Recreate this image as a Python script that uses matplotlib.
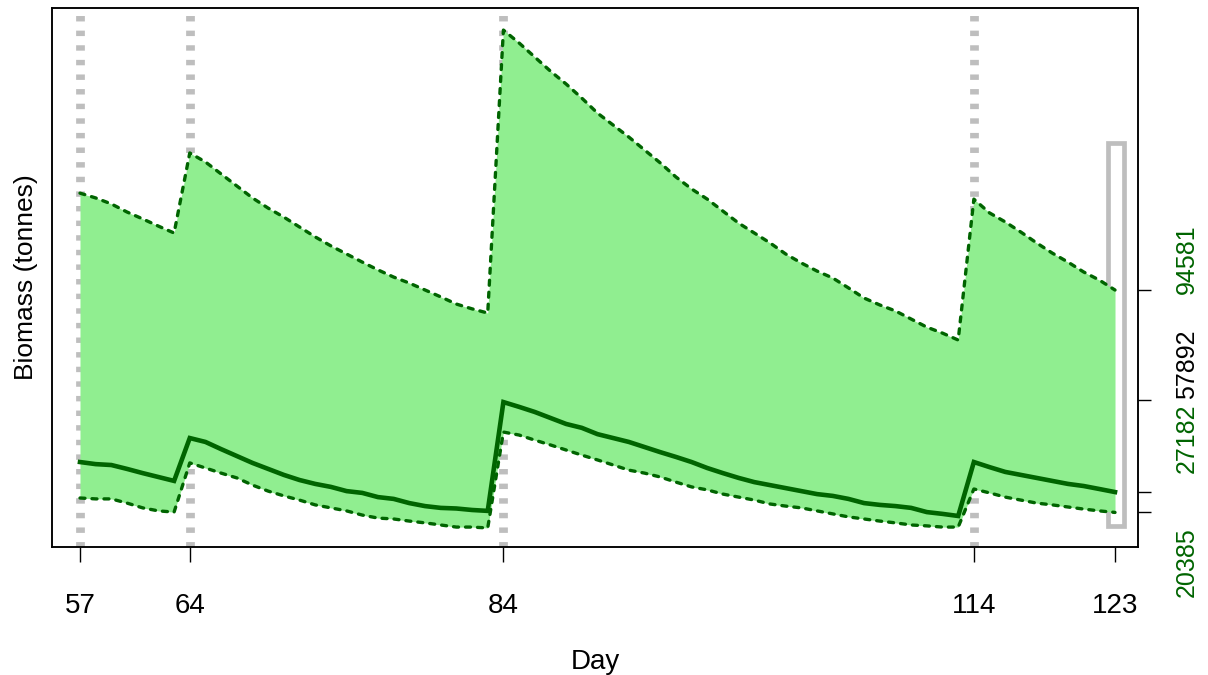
import numpy as np
import matplotlib
matplotlib.use("Agg")
import matplotlib.pyplot as plt
from matplotlib.patches import Rectangle

plt.rcParams["font.family"] = ["Liberation Sans", "DejaVu Sans"]

# ------------------------------------------------------------
# Data
# ------------------------------------------------------------
days = np.arange(57, 124)

upper = [
    126900, 125300, 123300, 120600, 118300, 115900, 113600,            # 57-63
    140300, 137300, 133300, 129300, 125300, 121900, 118900, 115600,    # 64-71
    112300, 109300, 106600, 103900, 101300, 98900, 96900, 94600,       # 72-79
    92300, 89900, 88300, 86900,                                        # 80-83
    181300, 177000, 172300, 167600, 163300, 158600, 153600, 149600,    # 84-91
    145600, 141300, 137000, 132300, 128300, 124900, 120900, 116900,    # 92-99
    113600, 110300, 106600, 103600, 100900, 98600, 95300, 91900,       # 100-107
    89600, 87600, 84900, 82200, 80200, 77900,                          # 108-113
    124900, 120300, 117300, 113900, 110300, 106900, 103900, 100600,    # 114-121
    97900, 94581,                                                      # 122-123
]

central = [
    37200, 36500, 36200, 34900, 33500, 32200, 30900,                   # 57-63
    45200, 43900, 41500, 39200, 36900, 34900, 32900, 31200,            # 64-71
    29900, 28900, 27500, 26900, 25500, 24900, 23500, 22500,            # 72-79
    21900, 21700, 21200, 20900,                                        # 80-83
    57200, 55600, 53900, 51900, 49900, 48600, 46500, 45200,            # 84-91
    43900, 42200, 40500, 38900, 37200, 35200, 33500, 31900,            # 92-99
    30500, 29500, 28500, 27500, 26500, 25900, 24900, 23500,            # 100-107
    22900, 22500, 21900, 20500, 19900, 19200,                          # 108-113
    37200, 35500, 33900, 32900, 31900, 30900, 29900, 29200,            # 114-121
    28200, 27182,                                                      # 122-123
]

lower = [
    25200, 24900, 24900, 23500, 21900, 20900, 20500,                   # 57-63
    36900, 35200, 33500, 31900, 29500, 27500, 25900, 24500,            # 64-71
    22900, 21900, 20900, 19500, 18500, 18200, 17500, 16900,            # 72-79
    16200, 15500, 15500, 15200,                                        # 80-83
    47200, 46200, 44500, 42900, 41200, 39500, 37900, 36200,            # 84-91
    34500, 33500, 32200, 30500, 28900, 27900, 26500, 25500,            # 92-99
    24500, 23200, 22500, 21900, 20900, 19900, 18900, 18200,            # 100-107
    17500, 16900, 16200, 15900, 15500, 15500,                          # 108-113
    28200, 26900, 25500, 24500, 23500, 22900, 22200, 21500,            # 114-121
    20900, 20385,                                                      # 122-123
]

event_days = [57, 64, 84, 114]
x_ticks = [57, 64, 84, 114, 123]

right_ticks = [20385, 27182, 57892, 94581]
right_labels = ["20385", "27182", "57892", "94581"]
right_colors = ["darkgreen", "darkgreen", "black", "darkgreen"]

# grey range box at the right (day span, biomass span)
box_days = (122.58, 123.6)
box_biomass = (15858, 143627)

# ------------------------------------------------------------
# Plot
# ------------------------------------------------------------
fig = plt.figure(figsize=(12.08, 6.75), dpi=100)
ax = fig.add_axes([52 / 1208, 1 - 547 / 675, 1086 / 1208, 539 / 675])

ax.set_xlim(55.215, 124.466)
ax.set_ylim(8853, 188663)

for d in event_days:
    ax.axvline(d, color="#BEBEBE", lw=6.3, dashes=(0.62, 1.05),
               solid_capstyle="butt", dash_capstyle="butt", zorder=1)

ax.add_patch(Rectangle((box_days[0], box_biomass[0]),
                       box_days[1] - box_days[0],
                       box_biomass[1] - box_biomass[0],
                       fill=False, edgecolor="#BEBEBE", lw=3.4, zorder=1.5))

ax.fill_between(days, lower, upper, color="#90EE90", lw=0, zorder=2)
ax.plot(days, upper, color="darkgreen", lw=2.4, dashes=(1.5, 2.1),
        dash_capstyle="round", zorder=3)
ax.plot(days, lower, color="darkgreen", lw=2.4, dashes=(1.5, 2.1),
        dash_capstyle="round", zorder=3)
ax.plot(days, central, color="darkgreen", lw=3.3, solid_joinstyle="miter",
        zorder=4)

# bottom axis
ax.set_xticks(x_ticks)
ax.set_xticklabels([str(t) for t in x_ticks])
ax.tick_params(axis="x", length=11, width=1, pad=22, labelsize=20)
ax.set_xlabel("Day", fontsize=20, labelpad=22)

# left axis: label only
ax.set_yticks([])
ax.set_ylabel("Biomass (tonnes)", fontsize=19, labelpad=10)

# right axis ticks, labels placed by hand (shifted like the original)
ax2 = ax.twinx()
ax2.set_ylim(ax.get_ylim())
ax2.set_yticks(right_ticks)
ax2.set_yticklabels([])
ax2.tick_params(axis="y", length=9, width=1)

label_y_px = [562, 438, 364, 259]
for lab, col, py in zip(right_labels, right_colors, label_y_px):
    fig.text(1187 / 1208, 1 - py / 675, lab, rotation=90, color=col,
             fontsize=18, ha="center", va="center")

for a in (ax, ax2):
    for s in a.spines.values():
        s.set_linewidth(1.1)

fig.savefig("out.png", dpi=100)
